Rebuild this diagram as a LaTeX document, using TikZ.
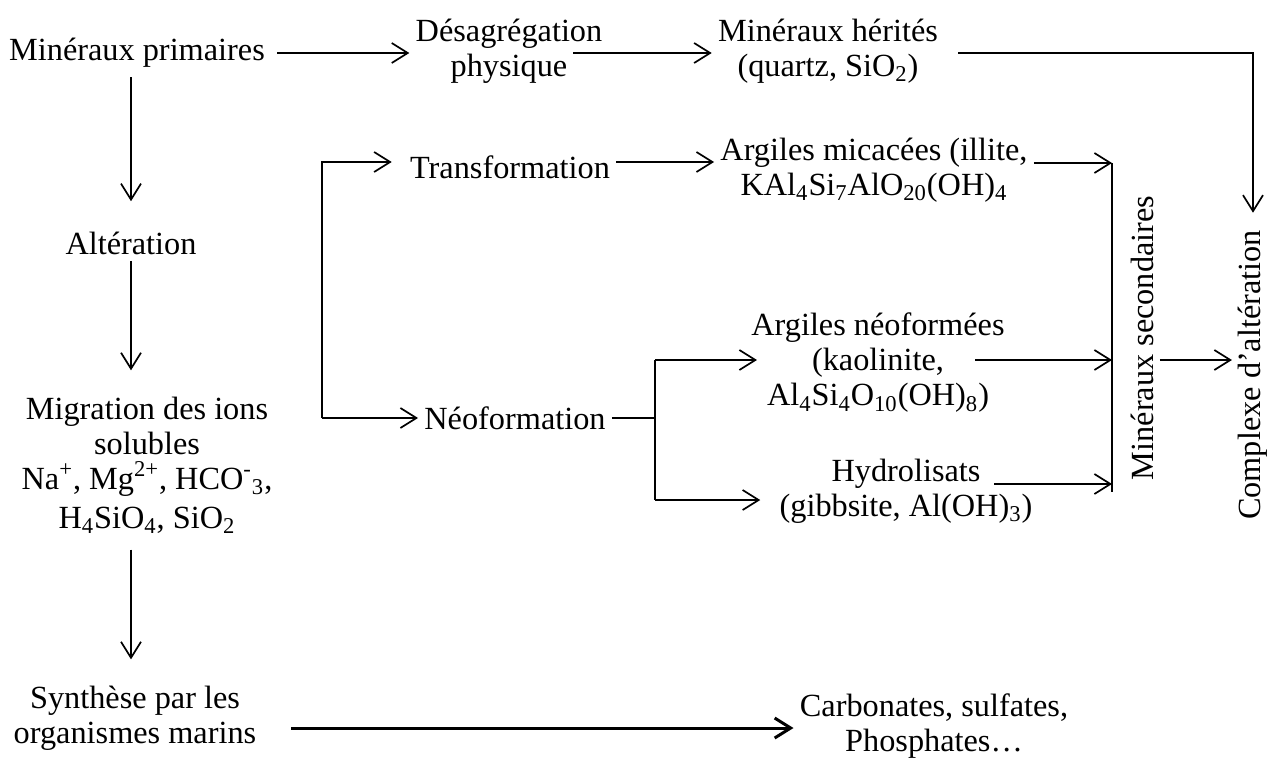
\documentclass[tikz,border=0pt]{standalone}
\usepackage{fontspec}
\setmainfont{Liberation Serif}
\usetikzlibrary{arrows.meta}

\begin{document}
\begin{tikzpicture}[
  x=0.5pt, y=-0.5pt,
  txt/.style={align=center, inner sep=3pt, font=\fontsize{16.15}{17.5}\selectfont},
  vtxt/.style={txt, rotate=90},
  link/.style={line width=0.85pt},
  arrow/.style={-{Straight Barb[length=8pt,width=10pt]}, line width=0.85pt},
  bigarrow/.style={arrow, line width=1.5pt}
]
  \useasboundingbox (0,0) rectangle (1285,760);

  \node[txt] (prim)   at (137,53)  {Minéraux primaires};
  \node[txt] (desag)  at (509,51)  {Désagrégation\\physique};
  \node[txt] (herit)  at (828,51)  {Minéraux hérités\\(quartz, SiO\textsubscript{2})};
  \node[txt] (alter)  at (131,243) {Altération};
  \node[txt] (migr)   at (147,465) {Migration des ions\\solubles\\Na\textsuperscript{+}, Mg\textsuperscript{2+}, HCO\textsuperscript{-}\textsubscript{3},\\[2pt]H\textsubscript{4}SiO\textsubscript{4}, SiO\textsubscript{2}};
  \node[txt] (synth)  at (135,718) {Synthèse par les\\organismes marins};
  \node[txt] (carb)   at (934,726) {Carbonates, sulfates,\\Phosphates…};
  \node[txt] (transf) at (510,167) {Transformation};
  \node[txt] (neo)    at (515,418) {Néoformation};
  \node[txt] (mica)   at (874,170) {Argiles micacées (illite,\\KAl\textsubscript{4}Si\textsubscript{7}AlO\textsubscript{20}(OH)\textsubscript{4}};
  \node[txt] (argneo) at (878,363) {Argiles néoformées\\(kaolinite,\\Al\textsubscript{4}Si\textsubscript{4}O\textsubscript{10}(OH)\textsubscript{8})};
  \node[txt] (hydro)  at (906,491) {Hydrolisats\\(gibbsite, Al(OH)\textsubscript{3})};
  \node[vtxt] (minsec) at (1142,338) {Minéraux secondaires};
  \node[vtxt] (cplx)   at (1253,375) {Complexe d’altération};

  % bends and free ends
  \coordinate (dp) at (573,53);
  \coordinate (hq) at (958,53);
  \coordinate (hc) at (1253,53);
  \coordinate (bt) at (322,162);
  \coordinate (bb) at (322,418);
  \coordinate (nj) at (655,418);
  \coordinate (nt) at (655,360);
  \coordinate (nb) at (655,500);
  \coordinate (ka) at (975,360);
  \coordinate (hy) at (994,484);
  \coordinate (mt) at (1112,163);
  \coordinate (mb) at (1112,492);
  \coordinate (sa) at (291,728);

  \draw[arrow, shorten <=3pt] (prim.east |- dp) -- (desag.west |- dp);
  \draw[arrow] (dp) -- (dp -| herit.west);
  \draw[arrow, shorten >=5.5pt] (hq) -- (hc) -- (cplx.east -| hc);

  \draw[arrow, shorten <=1.5pt, shorten >=12pt] (alter |- prim.south) -- (alter.north);
  \draw[arrow, shorten >=10pt] (alter.south) -- (alter |- migr.north);
  \draw[arrow, shorten <=5pt, shorten >=10pt] (alter |- migr.south) -- (alter |- synth.north);
  \draw[bigarrow] (sa) -- (sa -| carb.west);

  \draw[arrow, shorten >=6pt] (bb) -- (bt) -- (bt -| transf.west);
  \draw[arrow] (bb) -- (bb -| neo.west);
  \draw[arrow] (transf.east |- bt) -- (bt -| mica.west);
  \draw[arrow] (mica.east |- mt) -- (mt);

  \draw[link] (neo.east) -- (nj);
  \draw[link] (nt) -- (nb);
  \draw[arrow, shorten >=-6pt] (nt) -- (nt -| argneo.west);
  \draw[arrow, shorten >=6.5pt] (nb) -- (nb -| hydro.west);
  \draw[arrow] (ka) -- (ka -| mt);
  \draw[arrow] (hy) -- (hy -| mt);
  \draw[link] (mt) -- (mb);

  \draw[arrow] (minsec.south |- nt) -- (cplx.north |- nt);
\end{tikzpicture}
\end{document}
